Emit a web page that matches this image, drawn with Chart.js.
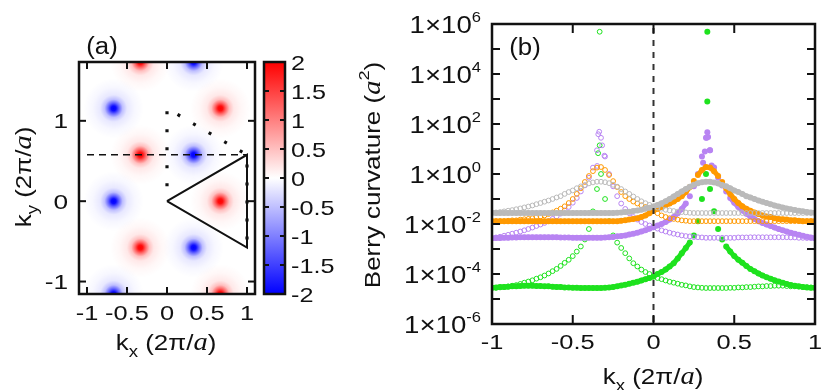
<!DOCTYPE html>
<html><head><meta charset="utf-8">
<script src="https://cdn.jsdelivr.net/npm/chart.js@4.4.1/dist/chart.umd.min.js"></script>
<style>
html,body{margin:0;padding:0;background:#fff;}
#wrap{position:relative;width:830px;height:390px;background:#fff;}
canvas{position:absolute;left:0;top:0;}
</style></head><body>
<div id="wrap">
<canvas id="ca" width="830" height="390"></canvas>
<canvas id="cc" width="830" height="390"></canvas>
<canvas id="cb" width="830" height="390"></canvas>
</div>
<script>
// ---------- panel (a) data ----------
const redKx  = [-0.333, 0.667, -0.333, 0.667, -0.333, 0.667];
const redKy  = [1.732, 1.155, 0.577, 0, -0.577, -1.155];
const blueKx = [0.333, -0.667, 0.333, -0.667, 0.333, -0.667];
const blueKy = [1.732, 1.155, 0.577, 0, -0.577, -1.155];
const triKx = [0, 1, 1, 0];
const triKy = [0, 0.577, -0.577, 0];
const dashKx = [-1, 1];
const dashKy = [0.577, 0.577];
const dotKx = [0, 0, 1, 1];
const dotKy = [0, 1.155, 0.577, -0.577];
const aTicksX = [-1, -0.5, 0, 0.5, 1];
const aTicksY = [-1, 0, 1];
const cbTicks = [2, 1.5, 1, 0.5, 0, -0.5, -1, -1.5, -2];

// ---------- panel (b) data ----------
const kx = [-1,-0.975,-0.95,-0.925,-0.9,-0.875,-0.85,-0.825,-0.8,-0.775,
-0.75,-0.725,-0.7,-0.675,-0.65,-0.625,-0.6,-0.575,-0.55,-0.525,
-0.5,-0.475,-0.45,-0.425,-0.4,-0.375,-0.35,-0.325,-0.3,-0.275,
-0.25,-0.225,-0.2,-0.175,-0.15,-0.125,-0.1,-0.075,-0.05,-0.025,
0,0.025,0.05,0.075,0.1,0.125,0.15,0.175,0.2,0.225,
0.25,0.275,0.3,0.325,0.35,0.375,0.4,0.425,0.45,0.475,
0.5,0.525,0.55,0.575,0.6,0.625,0.65,0.675,0.7,0.725,
0.75,0.775,0.8,0.825,0.85,0.875,0.9,0.925,0.95,0.975,1];

const greenFilled = [2.8e-5,2.9e-5,3.0e-5,3.0e-5,3.1e-5,3.2e-5,3.2e-5,3.3e-5,3.4e-5,3.4e-5,
3.4e-5,3.3e-5,3.3e-5,3.2e-5,3.2e-5,3.1e-5,3.0e-5,3.0e-5,2.9e-5,2.9e-5,
2.8e-5,2.8e-5,2.75e-5,2.75e-5,2.75e-5,2.75e-5,2.75e-5,2.75e-5,2.8e-5,2.9e-5,
3.0e-5,3.2e-5,3.5e-5,3.7e-5,4.1e-5,4.5e-5,4.9e-5,5.5e-5,6.2e-5,6.9e-5,
7.9e-5,1.0e-4,1.2e-4,1.5e-4,2.0e-4,2.7e-4,4.2e-4,6.8e-4,1.1e-3,1.8e-3,
3.5e-3,1.3e-2,0.1,1.0,0.25,3.2e-2,6.3e-3,2.4e-3,1.26e-3,7.9e-4,
5.2e-4,3.7e-4,2.8e-4,2.1e-4,1.6e-4,1.3e-4,1.05e-4,8.7e-5,7.4e-5,6.5e-5,
5.6e-5,5.0e-5,4.5e-5,4.0e-5,3.6e-5,3.4e-5,3.2e-5,3.0e-5,2.9e-5,2.8e-5,2.8e-5];
const greenOpen = [2.8e-5,2.8e-5,2.9e-5,3.0e-5,3.2e-5,3.4e-5,3.6e-5,4.0e-5,4.5e-5,5.0e-5,
5.6e-5,6.5e-5,7.4e-5,8.7e-5,1.05e-4,1.3e-4,1.6e-4,2.1e-4,2.8e-4,3.7e-4,
5.2e-4,7.9e-4,1.26e-3,2.4e-3,6.3e-3,3.2e-2,0.25,1.0,0.1,1.3e-2,
3.5e-3,1.8e-3,1.1e-3,6.8e-4,4.2e-4,2.7e-4,2.0e-4,1.5e-4,1.2e-4,1.0e-4,
7.9e-5,6.9e-5,6.2e-5,5.5e-5,4.9e-5,4.5e-5,4.1e-5,3.7e-5,3.5e-5,3.2e-5,
3.0e-5,2.9e-5,2.8e-5,2.75e-5,2.75e-5,2.75e-5,2.75e-5,2.75e-5,2.75e-5,2.8e-5,
2.8e-5,2.9e-5,2.9e-5,3.0e-5,3.0e-5,3.1e-5,3.2e-5,3.2e-5,3.3e-5,3.3e-5,
3.4e-5,3.4e-5,3.4e-5,3.3e-5,3.2e-5,3.2e-5,3.1e-5,3.0e-5,3.0e-5,2.9e-5,2.8e-5];

const purpleFilled = [2.7e-3,2.75e-3,2.75e-3,2.8e-3,2.8e-3,2.9e-3,2.9e-3,2.95e-3,2.95e-3,2.95e-3,
2.95e-3,2.95e-3,2.95e-3,2.95e-3,2.95e-3,2.95e-3,2.95e-3,2.9e-3,2.9e-3,2.9e-3,
2.8e-3,2.8e-3,2.8e-3,2.8e-3,2.8e-3,2.8e-3,2.8e-3,2.8e-3,2.9e-3,2.95e-3,
3.0e-3,3.2e-3,3.3e-3,3.5e-3,3.8e-3,4.1e-3,4.5e-3,5.0e-3,5.6e-3,6.5e-3,
7.4e-3,8.7e-3,1.0e-2,1.2e-2,1.5e-2,1.9e-2,2.7e-2,4.0e-2,6.6e-2,0.13,
0.32,1.0,5.0,28,8.9,1.8,0.71,0.35,0.2,0.11,
7.1e-2,4.8e-2,3.5e-2,2.6e-2,2.0e-2,1.6e-2,1.3e-2,1.1e-2,9.5e-3,8.3e-3,
7.2e-3,6.3e-3,5.6e-3,5.0e-3,4.5e-3,4.1e-3,3.7e-3,3.4e-3,3.1e-3,2.9e-3,2.7e-3];
const purpleOpen = [2.7e-3,2.9e-3,3.1e-3,3.4e-3,3.7e-3,4.1e-3,4.5e-3,5.0e-3,5.6e-3,6.3e-3,
7.2e-3,8.3e-3,9.5e-3,1.1e-2,1.3e-2,1.6e-2,2.0e-2,2.6e-2,3.5e-2,4.8e-2,
7.1e-2,0.11,0.2,0.35,0.71,1.8,8.9,28,5.0,1.0,
0.32,0.13,6.6e-2,4.0e-2,2.7e-2,1.9e-2,1.5e-2,1.2e-2,1.0e-2,8.7e-3,
7.4e-3,6.5e-3,5.6e-3,5.0e-3,4.5e-3,4.1e-3,3.8e-3,3.5e-3,3.3e-3,3.2e-3,
3.0e-3,2.95e-3,2.9e-3,2.8e-3,2.8e-3,2.8e-3,2.8e-3,2.8e-3,2.8e-3,2.8e-3,
2.8e-3,2.9e-3,2.9e-3,2.9e-3,2.95e-3,2.95e-3,2.95e-3,2.95e-3,2.95e-3,2.95e-3,
2.95e-3,2.95e-3,2.95e-3,2.95e-3,2.9e-3,2.9e-3,2.8e-3,2.8e-3,2.75e-3,2.75e-3,2.7e-3];

const orangeFilled = [1.3e-2,1.3e-2,1.3e-2,1.3e-2,1.3e-2,1.3e-2,1.3e-2,1.3e-2,1.3e-2,1.3e-2,
1.3e-2,1.3e-2,1.3e-2,1.3e-2,1.3e-2,1.3e-2,1.3e-2,1.3e-2,1.3e-2,1.3e-2,
1.3e-2,1.3e-2,1.3e-2,1.3e-2,1.3e-2,1.3e-2,1.3e-2,1.3e-2,1.3e-2,1.3e-2,
1.3e-2,1.3e-2,1.35e-2,1.4e-2,1.5e-2,1.6e-2,1.7e-2,1.9e-2,2.2e-2,2.7e-2,
3.4e-2,4.1e-2,4.8e-2,5.6e-2,6.6e-2,7.9e-2,0.1,0.13,0.19,0.3,
0.52,0.91,1.45,1.9,1.8,1.3,0.83,0.48,0.27,0.16,
0.1,6.9e-2,5.1e-2,4.1e-2,3.4e-2,2.9e-2,2.5e-2,2.2e-2,2.0e-2,1.9e-2,
1.7e-2,1.6e-2,1.55e-2,1.5e-2,1.4e-2,1.4e-2,1.35e-2,1.3e-2,1.3e-2,1.3e-2,1.3e-2];
const orangeOpen = [1.3e-2,1.3e-2,1.3e-2,1.3e-2,1.35e-2,1.4e-2,1.4e-2,1.5e-2,1.55e-2,1.6e-2,
1.7e-2,1.9e-2,2.0e-2,2.2e-2,2.5e-2,2.9e-2,3.4e-2,4.1e-2,5.1e-2,6.9e-2,
0.1,0.16,0.27,0.48,0.83,1.3,1.8,1.9,1.45,0.91,
0.52,0.3,0.19,0.13,0.1,7.9e-2,6.6e-2,5.6e-2,4.8e-2,4.1e-2,
3.4e-2,2.7e-2,2.2e-2,1.9e-2,1.7e-2,1.6e-2,1.5e-2,1.4e-2,1.35e-2,1.3e-2,
1.3e-2,1.3e-2,1.3e-2,1.3e-2,1.3e-2,1.3e-2,1.3e-2,1.3e-2,1.3e-2,1.3e-2,
1.3e-2,1.3e-2,1.3e-2,1.3e-2,1.3e-2,1.3e-2,1.3e-2,1.3e-2,1.3e-2,1.3e-2,
1.3e-2,1.3e-2,1.3e-2,1.3e-2,1.3e-2,1.3e-2,1.3e-2,1.3e-2,1.3e-2,1.3e-2,1.3e-2];

const grayFilled = [2.8e-2,2.75e-2,2.75e-2,2.75e-2,2.75e-2,2.75e-2,2.75e-2,2.75e-2,2.75e-2,2.75e-2,
2.75e-2,2.75e-2,2.75e-2,2.75e-2,2.75e-2,2.75e-2,2.75e-2,2.75e-2,2.75e-2,2.75e-2,
2.75e-2,2.75e-2,2.75e-2,2.75e-2,2.75e-2,2.75e-2,2.75e-2,2.75e-2,2.75e-2,2.75e-2,
2.75e-2,2.8e-2,2.9e-2,3.0e-2,3.1e-2,3.3e-2,3.5e-2,3.7e-2,4.1e-2,4.5e-2,
5.0e-2,5.8e-2,6.8e-2,8.1e-2,0.1,0.126,0.16,0.2,0.25,0.31,
0.37,0.43,0.47,0.49,0.49,0.46,0.42,0.36,0.32,0.27,
0.22,0.19,0.16,0.13,0.115,0.1,8.7e-2,7.8e-2,6.9e-2,6.2e-2,
5.5e-2,5.0e-2,4.6e-2,4.2e-2,3.9e-2,3.6e-2,3.4e-2,3.2e-2,3.0e-2,2.9e-2,2.8e-2];
const grayOpen = [2.8e-2,2.9e-2,3.0e-2,3.2e-2,3.4e-2,3.6e-2,3.9e-2,4.2e-2,4.6e-2,5.0e-2,
5.5e-2,6.2e-2,6.9e-2,7.8e-2,8.7e-2,0.1,0.115,0.13,0.16,0.19,
0.22,0.27,0.32,0.36,0.42,0.46,0.49,0.49,0.47,0.43,
0.37,0.31,0.25,0.2,0.16,0.126,0.1,8.1e-2,6.8e-2,5.8e-2,
5.0e-2,4.5e-2,4.1e-2,3.7e-2,3.5e-2,3.3e-2,3.1e-2,3.0e-2,2.9e-2,2.8e-2,
2.75e-2,2.75e-2,2.75e-2,2.75e-2,2.75e-2,2.75e-2,2.75e-2,2.75e-2,2.75e-2,2.75e-2,
2.75e-2,2.75e-2,2.75e-2,2.75e-2,2.75e-2,2.75e-2,2.75e-2,2.75e-2,2.75e-2,2.75e-2,
2.75e-2,2.75e-2,2.75e-2,2.75e-2,2.75e-2,2.75e-2,2.75e-2,2.75e-2,2.75e-2,2.75e-2,2.8e-2];

// extra samples right at the K points (spikes)
const greenSpikeKx = [0.3333, 0.3333];
const greenSpike   = [4.9e5, 800];
const greenOpenSpikeKx = [-0.3333, -0.3333, -0.343];
const greenOpenSpike   = [4.9e5, 14, 6.8];
const purpleSpikeKx = [0.3333, 0.329, 0.338, 0.318, 0.349, 0.307, 0.36];
const purpleSpike   = [47, 28, 30, 7.9, 8.9, 2.8, 2.2];
const purpleOpenSpikeKx = [-0.336, -0.342, -0.318, -0.304, -0.349];
const purpleOpenSpike   = [49, 39, 14, 5.4, 2.1];
const bTicksX = [-1, -0.5, 0, 0.5, 1];
const bExponents = [6, 4, 2, 0, -2, -4, -6];

// ---------- helpers ----------
const SANS = '"Liberation Sans", Arial, Helvetica, sans-serif';
const SERIF = '"Liberation Serif", "Times New Roman", serif';
const INK = '#111';
function rich(ctx, parts, x, y, opt) {
  opt = opt || {};
  const size = opt.size || 21, sx = opt.sx || 1.22, align = opt.align || 'center', rot = opt.rot || 0;
  ctx.save();
  ctx.translate(x, y); ctx.rotate(rot); ctx.scale(sx, 1);
  ctx.fillStyle = INK; ctx.textBaseline = 'alphabetic'; ctx.textAlign = 'left';
  let w = 0;
  const items = parts.map(p => {
    if (typeof p === 'string') p = {t: p};
    const s = size * (p.scale || 1);
    const font = (p.italic ? 'italic ' : '') + s.toFixed(1) + 'px ' + (p.serif ? SERIF : SANS);
    ctx.font = font; const mw = ctx.measureText(p.t).width; w += mw;
    return {t: p.t, font, mw, dy: (p.dy || 0) * size};
  });
  let cx = align === 'center' ? -w / 2 : (align === 'right' ? -w : 0);
  const base = 0.36 * size;
  for (const it of items) { ctx.font = it.font; ctx.fillText(it.t, cx, base + it.dy); cx += it.mw; }
  ctx.restore();
}
function frame(ctx, a, lw) {
  ctx.save(); ctx.strokeStyle = INK; ctx.lineWidth = lw || 2.5;
  ctx.strokeRect(a.left, a.top, a.right - a.left, a.bottom - a.top); ctx.restore();
}
function line(ctx, x1, y1, x2, y2, lw) {
  ctx.beginPath(); ctx.moveTo(x1, y1); ctx.lineTo(x2, y2); ctx.lineWidth = lw || 2; ctx.strokeStyle = INK; ctx.stroke();
}
const kTitle = (sub) => ['k', {t: sub, scale: 0.72, dy: 0.3}, ' (2π/', {t: 'a', italic: true, serif: true, scale: 1.1}, ')'];
const pts = (xs, ys) => xs.map((x, i) => ({x: x, y: ys[i]}));

// ---------- panel (a) heat map ----------
const SPOT_R = 30;
function spotFill(r, g, b) {
  return (c) => {
    const chart = c.chart; const p = c.parsed;
    if (!p || !chart.chartArea) return `rgb(${r},${g},${b})`;
    const px = chart.scales.x.getPixelForValue(p.x), py = chart.scales.y.getPixelForValue(p.y);
    const gr = chart.ctx.createRadialGradient(px, py, 0, px, py, SPOT_R);
    const st = [[0, 1], [0.08, 0.95], [0.18, 0.6], [0.3, 0.25], [0.45, 0.09], [0.7, 0.03], [1, 0]];
    st.forEach(s => gr.addColorStop(s[0], `rgba(${r},${g},${b},${s[1]})`));
    return gr;
  };
}
const plugA = {
  id: 'plugA',
  afterDraw(chart) {
    const ctx = chart.ctx, a = chart.chartArea, sx = chart.scales.x, sy = chart.scales.y;
    frame(ctx, a, 2.5);
    ctx.save();
    aTicksX.forEach(v => { const p = sx.getPixelForValue(v);
      line(ctx, p, a.bottom, p, a.bottom - 7, 2); line(ctx, p, a.top, p, a.top + 7, 2);
      rich(ctx, [String(v)], p, 313, {size: 20, sx: 1.27}); });
    aTicksY.forEach(v => { const p = sy.getPixelForValue(v);
      line(ctx, a.left, p, a.left + 7, p, 2); line(ctx, a.right, p, a.right - 7, p, 2);
      rich(ctx, [String(v)], 68, p, {size: 21, sx: 1.25, align: 'right'}); });
    ctx.restore();
    rich(ctx, ['(a)'], 102, 46, {size: 23, sx: 1.12});
    rich(ctx, kTitle('x'), 166, 342, {size: 22, sx: 1.18});
    rich(ctx, kTitle('y'), 23, 177, {size: 22, sx: 1.18, rot: -Math.PI / 2});
  }
};
new Chart(document.getElementById('ca'), {
  type: 'scatter',
  data: { datasets: [
    {data: pts(triKx, triKy), showLine: true, borderColor: INK, borderWidth: 2, pointRadius: 0, fill: false},
    {data: pts(dashKx, dashKy), showLine: true, borderColor: INK, borderWidth: 1.5, borderDash: [7, 5], pointRadius: 0, fill: false},
    {data: pts(dotKx, dotKy), showLine: true, borderColor: INK, borderWidth: 3.2, borderDash: [3, 15], borderDashOffset: 3, pointRadius: 0, fill: false},
    {data: pts(redKx, redKy), pointRadius: SPOT_R, pointHoverRadius: SPOT_R, pointBorderWidth: 0, backgroundColor: spotFill(255, 0, 0), borderColor: 'rgba(0,0,0,0)'},
    {data: pts(blueKx, blueKy), pointRadius: SPOT_R, pointHoverRadius: SPOT_R, pointBorderWidth: 0, backgroundColor: spotFill(0, 0, 255), borderColor: 'rgba(0,0,0,0)'}
  ]},
  options: {
    responsive: false, animation: false, devicePixelRatio: 1,
    layout: {padding: {left: 79, top: 62, right: 575, bottom: 96}},
    scales: {
      x: {type: 'linear', min: -1.1, max: 1.1, display: false},
      y: {type: 'linear', min: -1.155, max: 1.732, display: false}
    },
    plugins: {legend: {display: false}, tooltip: {enabled: false}}
  },
  plugins: [plugA]
});

// ---------- colour bar ----------
const plugC = {
  id: 'plugC',
  afterDraw(chart) {
    const ctx = chart.ctx, a = chart.chartArea, sy = chart.scales.y;
    frame(ctx, a, 2.5);
    cbTicks.forEach(v => { const p = sy.getPixelForValue(v);
      if (v > -2 && v < 2) { line(ctx, a.left, p, a.left + 5, p, 2); line(ctx, a.right, p, a.right - 5, p, 2); }
      rich(ctx, [String(v)], a.right + 6, p, {size: 21, align: 'left', sx: 1.2}); });
  }
};
new Chart(document.getElementById('cc'), {
  type: 'bar',
  data: { labels: ['c'], datasets: [{
    data: [[-2, 2]], barPercentage: 1, categoryPercentage: 1, borderWidth: 0, borderSkipped: false,
    backgroundColor: (c) => {
      const chart = c.chart, a = chart.chartArea; if (!a) return '#fff';
      const g = chart.ctx.createLinearGradient(0, a.top, 0, a.bottom);
      g.addColorStop(0, 'rgb(255,0,0)'); g.addColorStop(0.5, 'rgb(255,255,255)'); g.addColorStop(1, 'rgb(0,0,255)');
      return g;
    }
  }]},
  options: {
    responsive: false, animation: false, devicePixelRatio: 1,
    layout: {padding: {left: 264, top: 62, right: 545, bottom: 96}},
    scales: { x: {display: false}, y: {min: -2, max: 2, display: false} },
    plugins: {legend: {display: false}, tooltip: {enabled: false}}
  },
  plugins: [plugC]
});

// ---------- panel (b) ----------
const GREEN = 'rgb(30,226,30)', PURPLE = 'rgb(184,132,242)', ORANGE = 'rgb(255,153,0)', GRAY = 'rgb(186,186,186)';
const gapSeg = (color) => (c) => (Math.hypot(c.p1.x - c.p0.x, c.p1.y - c.p0.y) > 7 ? 'rgba(0,0,0,0)' : color);
function filledDs(vals, color) {
  return {data: pts(kx, vals), showLine: true, borderWidth: 5, pointRadius: 3, pointHoverRadius: 3, pointBorderWidth: 0,
    backgroundColor: color, borderColor: color, segment: {borderColor: gapSeg(color)}};
}
function dotsDs(xs, vals, color) {
  return {data: pts(xs, vals), pointRadius: 3, pointHoverRadius: 3, pointBorderWidth: 0, backgroundColor: color, borderColor: color};
}
function openDs(vals, color, sxs, sys) {
  let d = pts(kx, vals); if (sxs) d = d.concat(pts(sxs, sys));
  return {data: d, pointRadius: 2.4, pointHoverRadius: 2.4, pointBorderWidth: 1, backgroundColor: 'rgba(0,0,0,0)', borderColor: color};
}
const plugB = {
  id: 'plugB',
  afterDatasetsDraw(chart) {
    const ctx = chart.ctx, a = chart.chartArea, sx = chart.scales.x;
    const p = sx.getPixelForValue(0);
    ctx.save(); ctx.setLineDash([6, 6]); ctx.strokeStyle = '#333';
    ctx.beginPath(); ctx.moveTo(p, a.top + 4); ctx.lineTo(p, a.bottom); ctx.lineWidth = 2; ctx.stroke(); ctx.restore();
  },
  afterDraw(chart) {
    const ctx = chart.ctx, a = chart.chartArea, sx = chart.scales.x, sy = chart.scales.y;
    frame(ctx, a, 2.5);
    bTicksX.forEach(v => { const p = sx.getPixelForValue(v);
      if (v > -1 && v < 1) { line(ctx, p, a.bottom, p, a.bottom - 9, 2); line(ctx, p, a.top, p, a.top + 9, 2); }
      rich(ctx, [String(v)], p, 342, {size: 20, sx: 1.27}); });
    for (let e = -5; e <= 5; e++) { const p = sy.getPixelForValue(Math.pow(10, e));
      line(ctx, a.left, p, a.left + 8, p, 2); line(ctx, a.right, p, a.right - 8, p, 2); }
    bExponents.forEach(e => { const p = sy.getPixelForValue(Math.pow(10, e));
      rich(ctx, ['1×10', {t: String(e), scale: 0.6, dy: -0.5}], 481, p + 1, {size: 23, align: 'right', sx: 1.2}); });
    rich(ctx, ['(b)'], 525, 47, {size: 23, sx: 1.12});
    rich(ctx, kTitle('x'), 653, 376, {size: 22, sx: 1.18});
    rich(ctx, ['Berry curvature (', {t: 'a', italic: true, serif: true, scale: 1.1}, {t: '2', scale: 0.7, dy: -0.5}, ')'],
      372, 175, {size: 22, sx: 1.18, rot: -Math.PI / 2});
  }
};
new Chart(document.getElementById('cb'), {
  type: 'scatter',
  data: { datasets: [
    filledDs(grayFilled, GRAY), openDs(grayOpen, GRAY),
    filledDs(orangeFilled, ORANGE), openDs(orangeOpen, ORANGE),
    filledDs(purpleFilled, PURPLE), dotsDs(purpleSpikeKx, purpleSpike, PURPLE),
    openDs(purpleOpen, PURPLE, purpleOpenSpikeKx, purpleOpenSpike),
    filledDs(greenFilled, GREEN), dotsDs(greenSpikeKx, greenSpike, GREEN),
    openDs(greenOpen, GREEN, greenOpenSpikeKx, greenOpenSpike)
  ]},
  options: {
    responsive: false, animation: false, devicePixelRatio: 1,
    layout: {padding: {left: 492, top: 24, right: 15, bottom: 66}},
    scales: {
      x: {type: 'linear', min: -1, max: 1, display: false},
      y: {type: 'logarithmic', min: 1e-6, max: 1e6, display: false}
    },
    plugins: {legend: {display: false}, tooltip: {enabled: false}}
  },
  plugins: [plugB]
});
</script>
</body></html>
